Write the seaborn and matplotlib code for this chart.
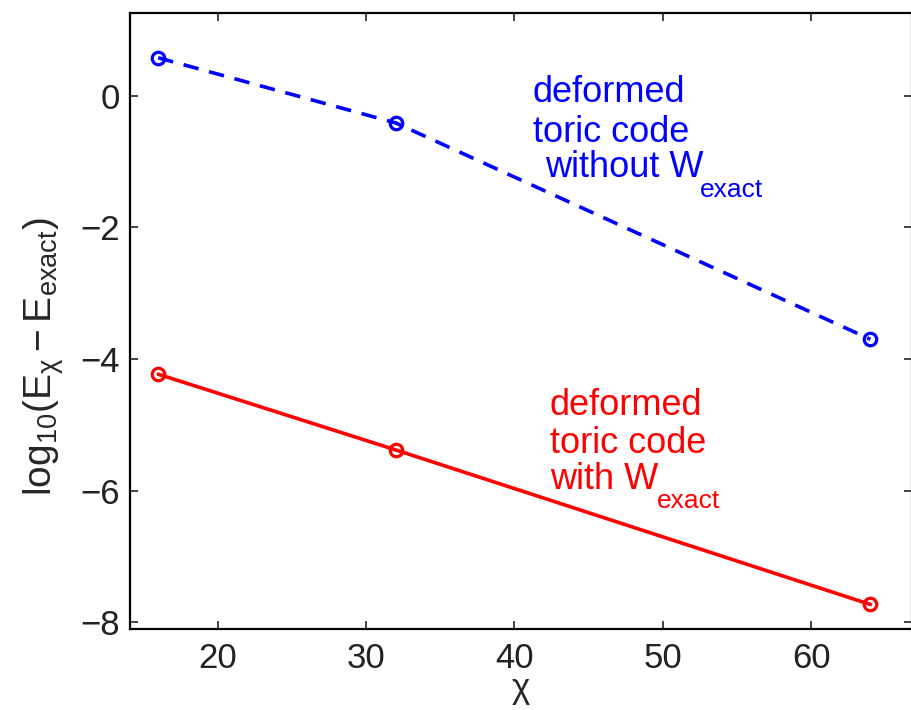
import matplotlib
matplotlib.use('Agg')
import matplotlib.pyplot as plt
import seaborn as sns
import pandas as pd

# valores
chi = [16, 32, 64]
err_without_w = [0.58, -0.41, -3.70]
err_with_w = [-4.23, -5.38, -7.73]
x_ticks = [20, 30, 40, 50, 60]
y_ticks = [-8, -6, -4, -2, 0]

df = pd.DataFrame({'chi': chi, 'sem': err_without_w, 'com': err_with_w})

sns.set_style('ticks')
plt.rcParams['font.family'] = ['Liberation Sans', 'DejaVu Sans']
plt.rcParams['mathtext.fontset'] = 'custom'
plt.rcParams['mathtext.rm'] = 'Liberation Sans'
plt.rcParams['mathtext.it'] = 'Liberation Sans'

fig = plt.figure(figsize=(9.12, 7.10), dpi=100)
ax = fig.add_axes([0.1425, 0.1134, 0.8575, 0.8683])

blue = '#0000ff'
red = '#ff0000'

# Curva azul tracejada
sns.lineplot(x='chi', y='sem', data=df, ax=ax, color=blue, linewidth=2.6,
             marker='o', markersize=9, markerfacecolor='none',
             markeredgecolor=blue, markeredgewidth=2.3)
ax.lines[-1].set_dashes((4.3, 3.0))

# Curva vermelha contínua
sns.lineplot(x='chi', y='com', data=df, ax=ax, color=red, linewidth=2.6,
             marker='o', markersize=9, markerfacecolor='none',
             markeredgecolor=red, markeredgewidth=2.3)

ax.set_xlim(14.1, 66.8)
ax.set_ylim(-8.11, 1.26)
ax.set_xticks(x_ticks)
ax.set_yticks(y_ticks)
ax.tick_params(direction='in', top=True, right=True, length=6, width=1.2,
               labelsize=25, pad=9, colors='#222222')
ax.tick_params(axis='y', pad=7)
for s in ax.spines.values():
    s.set_linewidth(1.6)
    s.set_color('black')

ax.set_xlabel('χ', fontsize=25, labelpad=-2)
ax.set_ylabel(r'$\mathregular{log_{10}(E_{\chi}-E_{exact})}$', fontsize=28)
ax.yaxis.set_label_coords(-0.082, 0.442)

# Textos azuis
fs = 26
ax.text(41.25, -0.09, 'deformed', color=blue, fontsize=fs, va='baseline')
ax.text(41.25, -0.70, 'toric code', color=blue, fontsize=fs, va='baseline')
ax.text(42.06, -1.23, 'without W', color=blue, fontsize=fs, va='baseline')
ax.text(52.5, -1.53, 'exact', color=blue, fontsize=19, va='baseline')

# Textos vermelhos
ax.text(42.4, -4.85, 'deformed', color=red, fontsize=fs, va='baseline')
ax.text(42.4, -5.43, 'toric code', color=red, fontsize=fs, va='baseline')
ax.text(42.4, -5.97, 'with W', color=red, fontsize=fs, va='baseline')
ax.text(49.6, -6.26, 'exact', color=red, fontsize=19, va='baseline')

plt.savefig('out.png', dpi=100)
